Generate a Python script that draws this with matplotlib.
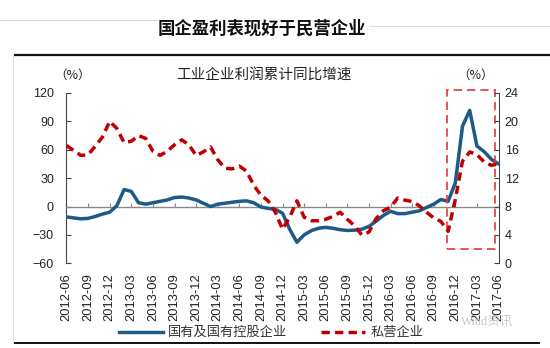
import matplotlib
matplotlib.use("Agg")
import matplotlib.pyplot as plt
import numpy as np
from matplotlib.lines import Line2D
from matplotlib.patches import Rectangle

plt.rcParams["font.family"] = ["Liberation Sans", "Noto Sans CJK SC"]

# quarterly tick labels, monthly data from 2012-06 to 2017-06
tick_labels = ["2012-06", "2012-09", "2012-12", "2013-03", "2013-06", "2013-09",
               "2013-12", "2014-03", "2014-06", "2014-09", "2014-12", "2015-03",
               "2015-06", "2015-09", "2015-12", "2016-03", "2016-06", "2016-09",
               "2016-12", "2017-03", "2017-06"]

# 国有及国有控股企业, cumulative YoY profit growth (%), left axis
soe = [-11, -12, -13, -12.5, -10.5, -8, -6, 1, 18, 16, 4, 2.5,
       4, 5.5, 7, 9.5, 10, 9, 7, 3.5, 0, 2.5, 3.5, 4.5,
       5.5, 6, 4, -0.5, -2, -3, -7, -24, -37.8, -30, -25.5, -23,
       -22, -23, -24.5, -25.3, -25, -24, -21, -15.5, -9.5, -5, -7.5, -7.5,
       -6, -4.5, -1, 2.5, 7.5, 5.5, 25, 85, 101.6, 64, 58, 50,
       45]

# 私营企业, cumulative YoY profit growth (%), right axis
private = [16.6, 15.9, 15.2, 15.3, 16.5, 17.8, 20, 19, 17, 17.2, 18, 17.6,
           15.8, 15.2, 15.8, 16.7, 17.4, 16.7, 15.2, 15.7, 16.4, 14.6, 13.4, 13.3,
           13.7, 13, 11, 9.6, 8.8, 7.2, 4.8, 6.5, 8.8, 6.5, 6, 6,
           6.2, 6.6, 7.2, 6.2, 5.3, 4.0, 4.4, 6.3, 7.4, 7.9, 9.2, 8.9,
           8.7, 8.1, 7.2, 6.4, 5.9, 4.5, 9, 14.4, 15.7, 15.3, 14.3, 13.8,
           14.0]

# highlighted window (month index range, left-axis value range)
box_x = (52.8, 59.5)
box_y = (-45, 123)

BLUE = "#1d5b86"
RED = "#c00000"
BOX_RED = "#e23a40"
TXT = "#222222"
CJK = ["Noto Sans CJK SC", "DejaVu Sans"]

months = np.arange(len(soe))
tick_pos = np.arange(0, len(soe), 3)

fig = plt.figure(figsize=(5.5, 3.48), dpi=100)
ax = fig.add_axes([0.1209, 0.2434, 0.7855, 0.4894])
ax2 = ax.twinx()

ax.plot(months, soe, color=BLUE, lw=2.5, solid_capstyle="round",
        solid_joinstyle="round", zorder=3)
ax2.plot(months, private, color=RED, lw=2.5, linestyle=(0, (2.4, 1.5)), zorder=3)

ax.add_patch(Rectangle((box_x[0], box_y[0]), box_x[1] - box_x[0], box_y[1] - box_y[0],
                       fill=False, edgecolor=BOX_RED, lw=1.2,
                       linestyle=(0, (5, 3)), clip_on=False, zorder=4))

ax.set_xlim(0, len(soe) - 1)
ax.set_ylim(-60, 120)
ax.set_yticks(range(-60, 121, 30))
ax2.set_ylim(0, 24)
ax2.set_yticks(range(0, 25, 4))

for a in (ax, ax2):
    a.spines["top"].set_visible(False)
ax2.spines["bottom"].set_visible(False)
ax2.spines["left"].set_visible(False)
ax.spines["right"].set_visible(False)
ax.spines["left"].set_color("#444444")
ax2.spines["right"].set_color("#444444")

# zero line carries the month ticks
ax.spines["bottom"].set_position(("data", 0))
ax.spines["bottom"].set_color("#8a8a8a")
ax.spines["bottom"].set_linewidth(1.0)
ax.set_xticks(tick_pos)
ax.tick_params(axis="x", direction="in", length=3, color="#8a8a8a",
               labelbottom=False)

ax.tick_params(axis="y", direction="in", length=3.5, color="#444444",
               labelsize=9, labelcolor=TXT, pad=9)
ax2.tick_params(axis="y", direction="in", length=3.5, color="#444444",
                labelsize=9, labelcolor=TXT, pad=4.5)

# date labels sit below the plot
sec = ax.secondary_xaxis("bottom")
sec.set_xticks(tick_pos, tick_labels, rotation=90)
sec.spines["bottom"].set_visible(False)
sec.tick_params(length=0, pad=7, labelsize=9.3, labelcolor=TXT)

# titles and unit labels
fig.text(0.476, 0.919, "国企盈利表现好于民营企业", ha="center", va="center",
         fontsize=12.5, fontweight="bold", color="#111111", family=CJK)
fig.text(0.48, 0.7845, "工业企业利润累计同比增速", ha="center", va="center",
         fontsize=10.5, color=TXT, family=CJK)
fig.text(0.131, 0.7845, "（%）", ha="center", va="center", fontsize=9,
         color=TXT, family=CJK)
fig.text(0.864, 0.7845, "（%）", ha="center", va="center", fontsize=9,
         color=TXT, family=CJK)

# frame rules
fig.add_artist(Line2D([0.0, 0.285], [0.942, 0.942], color="#dcdcdc", lw=0.8))
fig.add_artist(Line2D([0.67, 1.0], [0.925, 0.925], color="#dcdcdc", lw=0.8))
fig.add_artist(Line2D([0.027, 1.0], [0.842, 0.842], color="#111111", lw=1.6))
fig.add_artist(Line2D([0.027, 0.98], [0.0144, 0.0144], color="#111111", lw=1.4))
fig.add_artist(Line2D([0.024, 0.024], [0.842, 0.0144], color="#e2e2e2", lw=0.8))

handles = [Line2D([], [], color=BLUE, lw=2.5),
           Line2D([], [], color=RED, lw=2.5, linestyle=(0, (2.4, 1.5)))]
ax.legend(handles, ["国有及国有控股企业", "私营企业"], loc="center",
          bbox_to_anchor=(0.493, 0.043), bbox_transform=fig.transFigure,
          ncol=2, frameon=False, fontsize=9.5, handlelength=3.3,
          columnspacing=2.6, handletextpad=0.4, labelcolor="#333333")

fig.text(0.885, 0.075, "Wind资讯", ha="center", va="center", fontsize=9,
         color="#c9c9c9", family=["Liberation Serif", "Noto Sans CJK SC"])

fig.savefig("out.png", dpi=100)
